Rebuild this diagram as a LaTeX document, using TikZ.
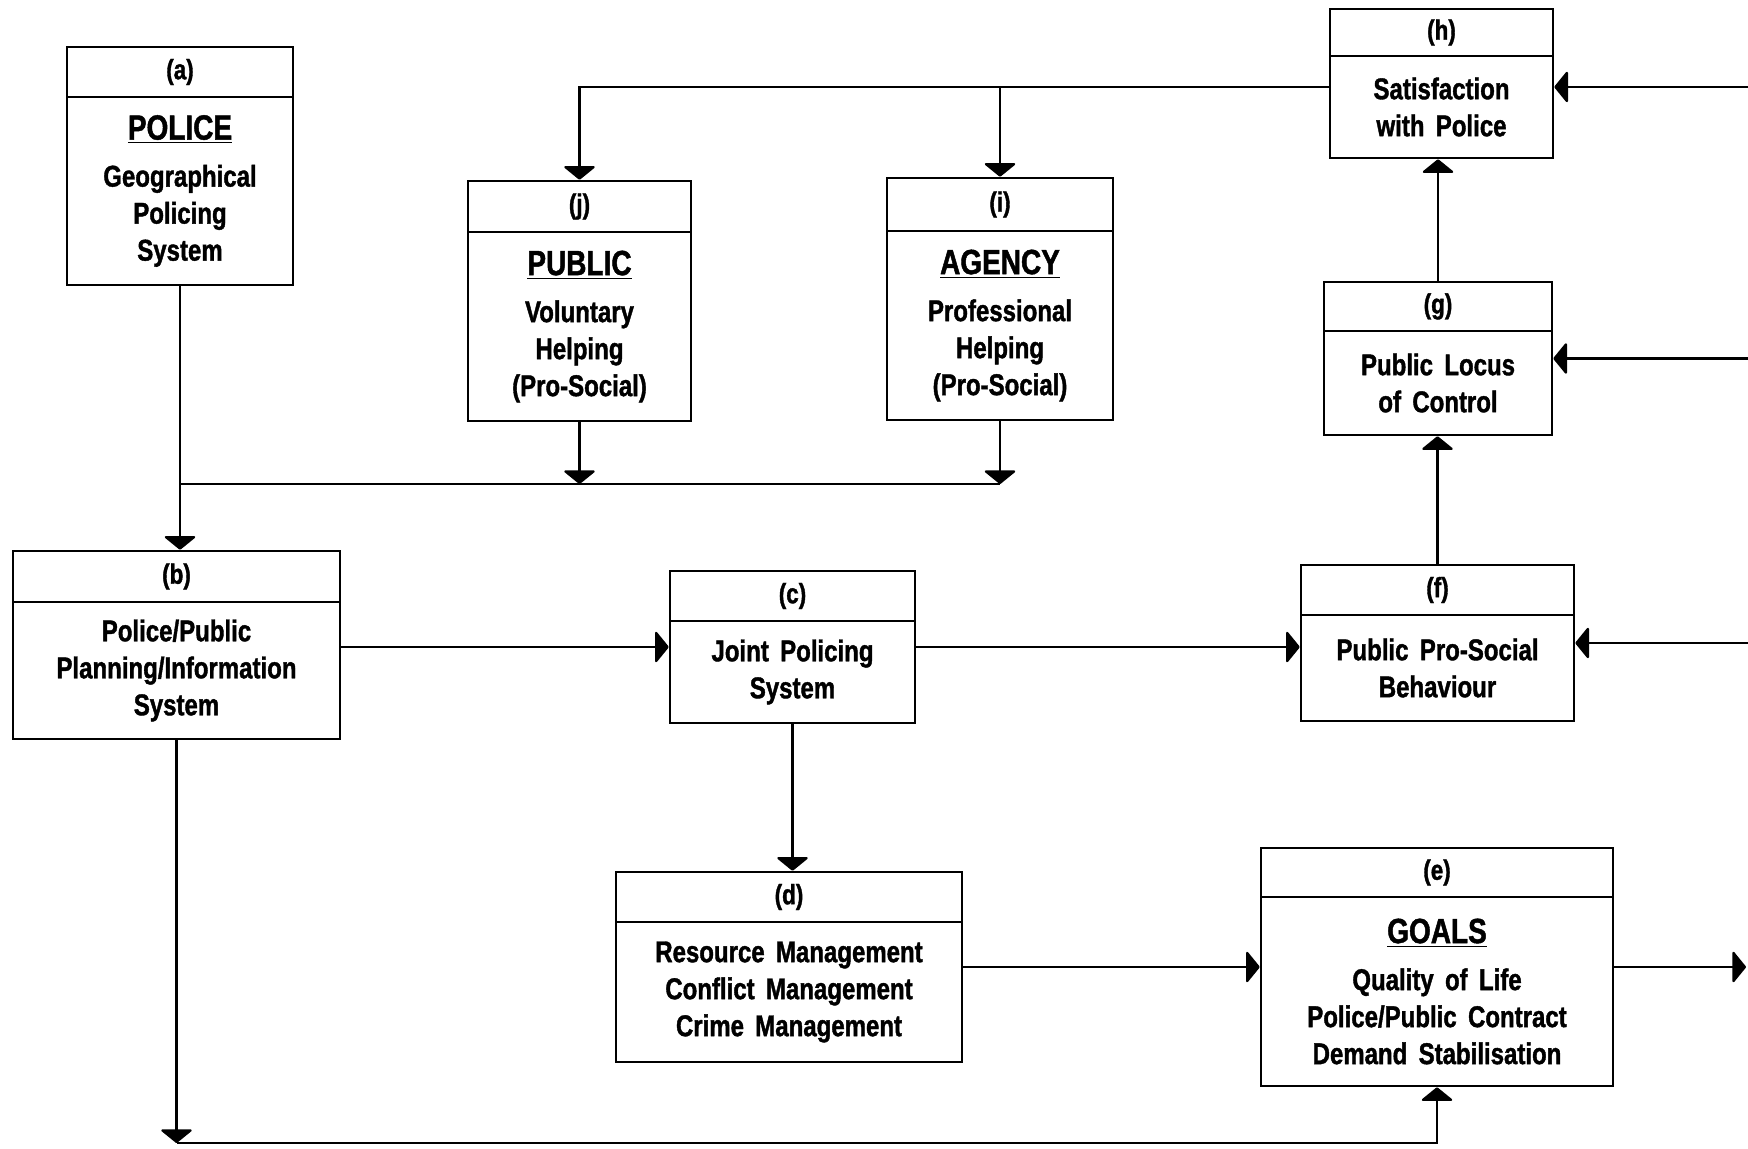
\documentclass[tikz,border=0pt]{standalone}
\usepackage{fontspec}
\setmainfont{Liberation Sans}[FakeStretch=0.80,WordSpace=1.7,BoldFeatures={FakeBold=1.3}]
\usetikzlibrary{arrows.meta}
\newcommand\ttl[1]{{\fontsize{17.5}{20}\selectfont\underline{#1}}\\[5pt]}
% name, x1, y1, x2, y2, divider y, label, body
\newcommand\flowbox[8]{%
  \node[boxs, minimum width={(#4-#2)*0.5pt}, minimum height={(#5-#3)*0.5pt}] (#1) at ({(#2+#4)/2},{(#3+#5)/2}) {};
  \draw[boxline] (#2,#6) -- (#4,#6);
  \node[lab] (#1-l) at ({(#2+#4)/2},{(#3+#6)/2}) {#7};
  \node[body] (#1-t) at ({(#2+#4)/2},{(#6+#5)/2}) {#8};
}
\begin{document}
\begin{tikzpicture}[x=0.5pt,y=-0.5pt,
  boxs/.style={draw,line width=1.3pt,inner sep=0pt},
  boxline/.style={line width=1.1pt},
  lab/.style={font=\bfseries\fontsize{14}{17}\selectfont,inner sep=0pt},
  body/.style={font=\bfseries\fontsize{15}{18.5}\selectfont,align=center,inner sep=0pt},
  arr/.style={line width=1.1pt,-{Triangle[width=17pt,length=7pt,round]}},
  ln/.style={line width=1.1pt}]
\useasboundingbox (0,0) rectangle (1748,1149);

\flowbox{a}{67}{47}{293}{285}{97}{(a)}{\ttl{POLICE}Geographical\\Policing\\System}
\flowbox{j}{468}{181}{691}{421}{232}{(j)}{\ttl{PUBLIC}Voluntary\\Helping\\(Pro-Social)}
\flowbox{i}{887}{178}{1113}{420}{231}{(i)}{\ttl{AGENCY}Professional\\Helping\\(Pro-Social)}
\flowbox{h}{1330}{9}{1553}{158}{56}{(h)}{Satisfaction\\with Police}
\flowbox{g}{1324}{282}{1552}{435}{331}{(g)}{Public Locus\\of Control}
\flowbox{f}{1301}{565}{1574}{721}{615}{(f)}{Public Pro-Social\\Behaviour}
\flowbox{b}{13}{551}{340}{739}{602}{(b)}{Police/Public\\Planning/Information\\System}
\flowbox{c}{670}{571}{915}{723}{621}{(c)}{Joint Policing\\System}
\flowbox{d}{616}{872}{962}{1062}{922}{(d)}{Resource Management\\Conflict Management\\Crime Management}
\flowbox{e}{1261}{848}{1613}{1086}{897}{(e)}{\ttl{GOALS}Quality of Life\\Police/Public Contract\\Demand Stabilisation}

\coordinate (hy) at (0,87);
\coordinate (jy) at (0,484);
\coordinate (by) at (0,1143);
\coordinate (rx) at (1748,0);
\coordinate (ox) at (1746,0);

% a -> b and the junction line from j and i
\draw[arr] (a.south) -- (a.south |- b.north);
\draw[ln] (a.south |- jy) -- (i.south |- jy);
\draw[arr] (j.south) -- (j.south |- jy);
\draw[arr] (i.south) -- (i.south |- jy);

% h -> j, i
\draw[arr] (h.west |- hy) -| (j.north);
\draw[arr] (i.north |- hy) -- (i.north);

% feedback from the right
\draw[arr] (rx |- hy) -- (h.east |- hy);
\draw[arr] (g.east -| rx) -- (g.east);
\draw[arr] (f.east -| rx) -- (f.east);

% upward chain
\draw[arr] (g.north) -- (g.north |- h.south);
\draw[arr] (f.north) -- (f.north |- g.south);

% main flow
\draw[arr] (b.east |- c.west) -- (c.west);
\draw[arr] (c.east) -- (c.east -| f.west);
\draw[arr] (c.south) -- (c.south |- d.north);
\draw[arr] (d.east) -- (d.east -| e.west);
\draw[arr] (e.east) -- (e.east -| ox);

% b -> e along the bottom
\draw[arr] (b.south) -- (b.south |- by);
\draw[arr] (b.south |- by) -| (e.south);
\end{tikzpicture}
\end{document}
